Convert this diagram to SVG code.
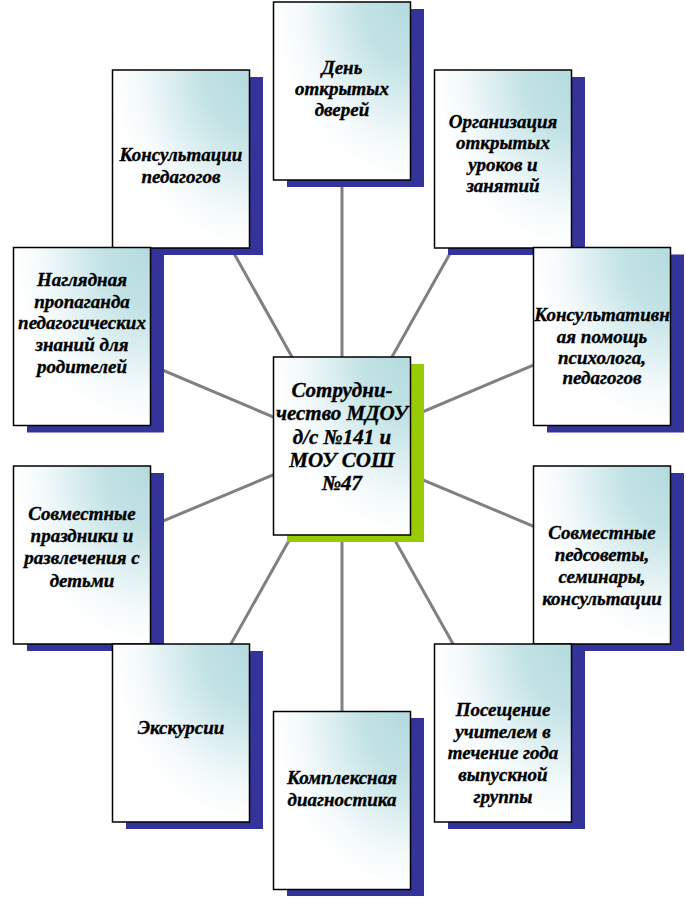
<svg xmlns="http://www.w3.org/2000/svg" width="686" height="898" viewBox="0 0 686 898">
<defs>
<radialGradient id="fill" cx="1" cy="0" r="1" fx="1" fy="0">
<stop offset="0" stop-color="#b4dbdf"/>
<stop offset="0.35" stop-color="#c2e2e5"/>
<stop offset="0.8" stop-color="#f4fafb"/>
<stop offset="1" stop-color="#ffffff"/>
</radialGradient>
</defs>
<style>
.box{fill:url(#fill);stroke:#000;stroke-width:1.5}
.sh{fill:#333399}
.shc{fill:#99cc00}
.con line{stroke:#808080;stroke-width:3}
text{font-family:'Liberation Serif','DejaVu Serif',serif;font-weight:700;font-style:italic;font-size:19px;text-anchor:middle;fill:#000;stroke:#000;stroke-width:0.35}
.ct{font-size:21px}
</style>
<rect width="686" height="898" fill="#fff"/>
<g id="connectors" class="con">
<line x1="342" y1="446" x2="342" y2="91"/>
<line x1="342" y1="446" x2="181" y2="159"/>
<line x1="342" y1="446" x2="503" y2="159"/>
<line x1="342" y1="446" x2="82" y2="336"/>
<line x1="342" y1="446" x2="602" y2="336"/>
<line x1="342" y1="446" x2="82" y2="555"/>
<line x1="342" y1="446" x2="602" y2="555"/>
<line x1="342" y1="446" x2="181" y2="733"/>
<line x1="342" y1="446" x2="503" y2="733"/>
<line x1="342" y1="446" x2="342" y2="800"/>
</g>
<g id="n-den">
<rect class="sh" x="287" y="9" width="137" height="178"/>
<rect class="box" x="273.5" y="2" width="137" height="178"/>
<text x="342"><tspan x="342" y="74">День</tspan><tspan x="342" y="95">открытых</tspan><tspan x="342" y="116">дверей</tspan></text>
</g>
<g id="n-konsult">
<rect class="sh" x="126" y="77" width="137" height="178"/>
<rect class="box" x="112.5" y="70" width="137" height="178"/>
<text><tspan x="181" y="161">Консультации</tspan><tspan x="181" y="183">педагогов</tspan></text>
</g>
<g id="n-organiz">
<rect class="sh" x="448" y="77" width="137" height="178"/>
<rect class="box" x="434.5" y="70" width="137" height="178"/>
<text><tspan x="503" y="128">Организация</tspan><tspan x="503" y="149">открытых</tspan><tspan x="503" y="171">уроков и</tspan><tspan x="503" y="192">занятий</tspan></text>
</g>
<g id="n-naglyad">
<rect class="sh" x="27" y="254.5" width="137" height="178"/>
<rect class="box" x="13.5" y="247.5" width="137" height="178"/>
<text><tspan x="82" y="286">Наглядная</tspan><tspan x="82" y="308">пропаганда</tspan><tspan x="82" y="329">педагогических</tspan><tspan x="82" y="351">знаний для</tspan><tspan x="82" y="373">родителей</tspan></text>
</g>
<g id="n-psych">
<rect class="sh" x="547" y="254.5" width="137" height="178"/>
<rect class="box" x="533.5" y="247.5" width="137" height="178"/>
<text><tspan x="602" y="321">Консультативн</tspan><tspan x="602" y="343">ая помощь</tspan><tspan x="602" y="364">психолога,</tspan><tspan x="602" y="384">педагогов</tspan></text>
</g>
<g id="n-center">
<rect class="shc" x="287" y="364" width="137" height="178"/>
<rect class="box" x="273.5" y="357" width="137" height="178"/>
<text class="ct"><tspan x="342" y="397">Сотрудни-</tspan><tspan x="342" y="420">чество МДОУ</tspan><tspan x="342" y="444">д/с №141 и</tspan><tspan x="342" y="467">МОУ СОШ</tspan><tspan x="342" y="490">№47</tspan></text>
</g>
<g id="n-prazdn">
<rect class="sh" x="27" y="473" width="137" height="178"/>
<rect class="box" x="13.5" y="466" width="137" height="178"/>
<text><tspan x="82" y="520">Совместные</tspan><tspan x="82" y="542">праздники и</tspan><tspan x="82" y="564">развлечения с</tspan><tspan x="82" y="587">детьми</tspan></text>
</g>
<g id="n-pedsov">
<rect class="sh" x="547" y="473" width="137" height="178"/>
<rect class="box" x="533.5" y="466" width="137" height="178"/>
<text><tspan x="602" y="539">Совместные</tspan><tspan x="602" y="561">педсоветы,</tspan><tspan x="602" y="583">семинары,</tspan><tspan x="602" y="605">консультации</tspan></text>
</g>
<g id="n-ekskurs">
<rect class="sh" x="126" y="651" width="137" height="178"/>
<rect class="box" x="112.5" y="644" width="137" height="178"/>
<text><tspan x="181" y="734">Экскурсии</tspan></text>
</g>
<g id="n-posesh">
<rect class="sh" x="448" y="651" width="137" height="178"/>
<rect class="box" x="434.5" y="644" width="137" height="178"/>
<text><tspan x="503" y="716">Посещение</tspan><tspan x="503" y="738">учителем в</tspan><tspan x="503" y="759">течение года</tspan><tspan x="503" y="781">выпускной</tspan><tspan x="503" y="803">группы</tspan></text>
</g>
<g id="n-kompl">
<rect class="sh" x="287" y="718" width="137" height="178"/>
<rect class="box" x="273.5" y="711.5" width="137" height="178"/>
<text><tspan x="342" y="784">Комплексная</tspan><tspan x="342" y="806">диагностика</tspan></text>
</g>
</svg>
